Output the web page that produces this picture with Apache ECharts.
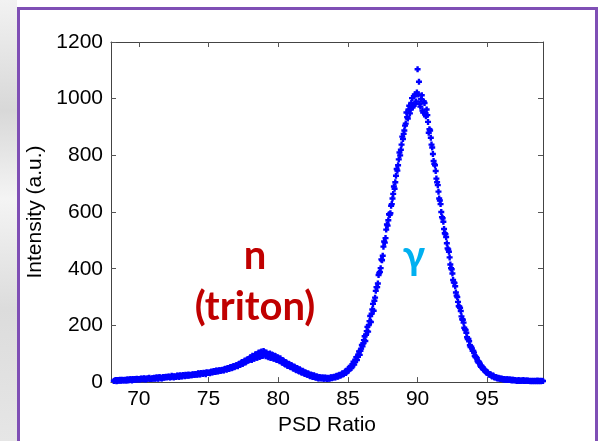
<!DOCTYPE html>
<html>
<head>
<meta charset="utf-8">
<script src="https://cdn.jsdelivr.net/npm/echarts@6/dist/echarts.min.js"></script>
<style>
html,body{margin:0;padding:0;background:#fff;}
#c{width:598px;height:441px;}
</style>
</head>
<body>
<div id="c"></div>
<script>
// PSD ratio bins (start + step) and intensity
const X_START = 68.2;
const X_STEP = 0.1;
const intensity = [
  4,6,3,7,5,6,8,6,
  8,5,9,7,10,6,9,11,8,10,
  11,9,12,10,13,9,12,14,11,12,
  12,15,13,16,12,17,14,16,15,18,
  16,19,17,18,21,16,20,19,22,18,
  22,20,24,21,25,23,22,26,24,27,
  25,28,26,30,27,31,29,32,28,33,
  34,31,37,35,39,36,40,38,42,40,
  44,41,47,44,50,47,53,50,57,54,
  60,56,65,62,71,67,76,72,81,78,
  88,78,92,83,98,86,104,90,108,93,
  106,91,100,88,101,86,96,82,92,78,
  86,74,79,68,74,62,68,57,63,52,
  57,47,52,42,47,37,42,33,37,29,
  32,25,28,21,25,18,22,15,19,13,
  17,13,16,12,15,11,14,13,17,15,
  19,16,22,20,26,24,31,29,37,35,
  46,45,57,56,72,71,88,90,108,110,
  131,136,162,167,195,201,233,241,276,287,
  322,335,378,389,433,446,496,508,556,571,
  590,622,648,690,705,752,765,810,820,866,
  876,905,951,930,975,962,1002,975,1015,990,
  1104,1060,972,1012,951,985,938,942,880,888,
  838,805,770,745,705,672,641,600,578,540,
  522,490,468,440,402,383,352,338,305,283,
  266,251,222,210,186,174,152,144,124,119,
  110,93,89,74,72,58,57,46,45,36,
  35,28,28,22,23,17,18,14,15,12,
  13,10,11,8,10,8,9,7,8,6,
  7,5,6,4,6,5,7,4,5,6,
  5,3,4,5,3,4,6,3,4,5,
  4
];
// interleaved bins (offset by half a step)
const X_START_2 = 68.25;
const intensity2 = [
  5,7,4,6,8,5,7,6,
  7,9,6,10,8,11,7,10,12,9,
  10,13,11,14,10,13,12,15,11,14,
  14,12,16,13,17,15,13,18,16,19,
  18,20,16,22,19,21,18,23,20,24,
  21,25,23,26,22,27,25,24,28,26,
  29,27,31,28,32,30,33,31,35,32,
  33,36,34,38,36,41,37,42,39,43,
  42,46,45,49,46,52,49,55,52,58,
  57,63,60,68,64,73,69,79,75,84,
  79,93,82,97,86,101,89,105,92,110,
  98,104,90,99,85,97,83,93,80,88,
  77,84,70,77,64,70,58,65,54,60,
  49,55,44,50,39,45,35,40,31,35,
  27,31,22,27,19,24,17,21,14,18,
  14,16,12,16,13,15,12,16,14,17,
  17,21,19,24,22,28,27,33,32,40,
  41,51,50,63,62,79,78,98,96,118,
  126,148,145,180,178,215,212,256,252,298,
  335,348,385,402,430,478,492,538,552,592,
  596,628,664,682,728,746,786,800,838,858,
  888,912,935,962,948,985,970,1008,982,1022,
  1015,982,998,958,990,945,962,918,892,862,
  828,780,765,718,695,648,628,582,566,525,
  512,472,460,415,398,360,350,316,300,268,
  262,232,220,192,184,158,152,130,125,110,
  104,88,84,70,68,54,53,43,42,33,
  33,26,27,20,22,16,17,13,14,11,
  12,9,10,7,10,7,9,6,8,7,
  6,4,7,5,5,6,4,6,5,4,
  4,5,3,4,5,3,4,5,3,4
];
const xTicks = [70, 75, 80, 85, 90, 95];
const X_MIN = 68, X_MAX = 99;
const Y_MIN = 0, Y_MAX = 1200, Y_STEP = 200;
const X_NAME = 'PSD Ratio';
const Y_NAME = 'Intensity (a.u.)';
const labelN = 'n';
const labelTriton = '(triton)';
const labelGamma = 'γ';

const points = intensity.map((y, i) => [+(X_START + i * X_STEP).toFixed(2), y])
  .concat(intensity2.map((y, i) => [+(X_START_2 + i * X_STEP).toFixed(2), y]));

const chart = echarts.init(document.getElementById('c'), null, {renderer: 'canvas'});
const axisLineStyle = {color: '#444', width: 1};
const tickStyle = {color: '#555', width: 1};
const FONT = '"Liberation Sans", Arial, sans-serif';

chart.setOption({
  animation: false,
  backgroundColor: '#ffffff',
  grid: {left: 111, right: 55, top: 42, bottom: 55, containLabel: false},
  xAxis: [{
    type: 'value', min: X_MIN, max: X_MAX, position: 'bottom',
    name: X_NAME, nameLocation: 'middle', nameGap: 32,
    nameTextStyle: {fontFamily: FONT, fontSize: 21, color: '#000'},
    axisLine: {show: true, onZero: false, lineStyle: axisLineStyle},
    axisTick: {show: true, inside: true, length: 5, lineStyle: tickStyle, customValues: xTicks},
    axisLabel: {show: true, margin: 7, fontFamily: FONT, fontSize: 21, color: '#000', customValues: xTicks,
      formatter: v => String(v)},
    splitLine: {show: false}
  }, {
    type: 'value', min: X_MIN, max: X_MAX, position: 'top',
    axisLine: {show: true, onZero: false, lineStyle: axisLineStyle},
    axisTick: {show: true, inside: true, length: 5, lineStyle: tickStyle, customValues: xTicks},
    axisLabel: {show: false},
    splitLine: {show: false}
  }],
  yAxis: [{
    type: 'value', min: Y_MIN, max: Y_MAX, interval: Y_STEP, position: 'left',
    name: Y_NAME, nameLocation: 'middle', nameGap: 60,
    nameTextStyle: {fontFamily: FONT, fontSize: 21, color: '#000'},
    axisLine: {show: true, onZero: false, lineStyle: axisLineStyle},
    axisTick: {show: true, inside: true, length: 5, lineStyle: tickStyle},
    axisLabel: {show: true, margin: 8, fontFamily: FONT, fontSize: 21, color: '#000',
      formatter: v => String(v)},
    splitLine: {show: false}
  }, {
    type: 'value', min: Y_MIN, max: Y_MAX, interval: Y_STEP, position: 'right',
    axisLine: {show: true, onZero: false, lineStyle: axisLineStyle},
    axisTick: {show: true, inside: true, length: 5, lineStyle: tickStyle},
    axisLabel: {show: false},
    splitLine: {show: false}
  }],
  series: [{
    type: 'scatter',
    xAxisIndex: 0, yAxisIndex: 0,
    data: points,
    symbol: 'path://M1.5,0H3.5V1.5H5V3.5H3.5V5H1.5V3.5H0V1.5H1.5Z',
    symbolSize: 6,
    itemStyle: {color: '#0000ff', opacity: 1},
    silent: true,
    z: 3
  }],
  graphic: [
    {type: 'rect', z: -5, shape: {x: 0, y: 0, width: 17, height: 441},
     style: {fill: new echarts.graphic.LinearGradient(0, 0, 0, 1, [
       {offset: 0, color: '#f2f2f2'}, {offset: 0.25, color: '#d8d8d8'},
       {offset: 0.45, color: '#f4f4f4'}, {offset: 0.7, color: '#dcdcdc'},
       {offset: 1, color: '#e6e6e6'}])}},
    {type: 'rect', z: -4, shape: {x: 18.5, y: 8.5, width: 578, height: 460},
     style: {fill: '#ffffff', stroke: '#7f4fb5', lineWidth: 3}},
    {type: 'text', z: 10, style: {text: labelN, x: 255, y: 256, fill: '#c00000',
      font: 'bold 40px Lato, "Open Sans", sans-serif', textAlign: 'center', textVerticalAlign: 'middle', align: 'center', verticalAlign: 'middle'}},
    {type: 'text', z: 10, style: {text: labelTriton, x: 255, y: 307, fill: '#c00000',
      font: 'bold 40px Lato, "Open Sans", sans-serif', textAlign: 'center', textVerticalAlign: 'middle', align: 'center', verticalAlign: 'middle'}},
    {type: 'text', z: 10, style: {text: labelGamma, x: 414, y: 256, fill: '#00b0f0',
      font: 'bold 40px Lato, "Open Sans", sans-serif', textAlign: 'center', textVerticalAlign: 'middle', align: 'center', verticalAlign: 'middle'}}
  ]
});
</script>
</body>
</html>
